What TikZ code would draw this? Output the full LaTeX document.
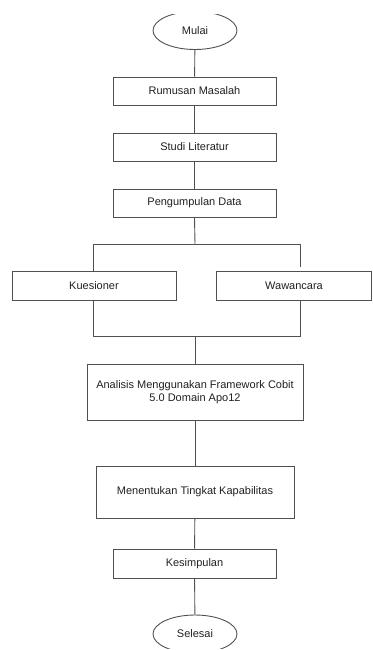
\documentclass[tikz,border=0pt]{standalone}
\usepackage{fontspec}
\setmainfont{Liberation Sans}
\usetikzlibrary{shapes.geometric}
\definecolor{ln}{HTML}{505050}
\definecolor{tx}{HTML}{202020}
\begin{document}
\begin{tikzpicture}[x=1pt,y=-1pt,
  box/.style={draw=ln,line width=0.9pt,rectangle,inner sep=0pt,minimum width=163pt,minimum height=28pt,text=tx,font=\fontsize{11pt}{13pt}\selectfont,align=center},
  term/.style={draw=ln,line width=0.9pt,ellipse,inner sep=0pt,minimum width=84pt,minimum height=38pt,text=tx,font=\fontsize{11pt}{13pt}\selectfont},
  conn/.style={draw=ln,line width=0.9pt}]
\useasboundingbox (0,0) rectangle (372,650);
\node[term] (mulai) at (195,30.5) {Mulai};
\node[box] (rumusan) at (194.5,91) {Rumusan Masalah};
\node[box] (studi) at (194.5,147) {Studi Literatur};
\node[box] (data) at (194.5,203) {Pengumpulan Data};
\node[box,minimum width=164pt,minimum height=29pt] (kues) at (94,285.5) {Kuesioner};
\node[box,minimum width=155pt,minimum height=29pt] (waw) at (294,285.5) {Wawancara};
\node[box,minimum width=216pt,minimum height=56pt] (anal) at (195,392) {Analisis Menggunakan Framework Cobit\\5.0 Domain Apo12};
\node[box,minimum width=198pt,minimum height=52pt] (tingkat) at (195,492) {Menentukan Tingkat Kapabilitas};
\node[box,minimum height=29pt] (simpul) at (194.5,563.5) {Kesimpulan};
\node[term] (selesai) at (195,634) {Selesai};
\coordinate (j1) at (195,244);
\coordinate (jl) at (93,244);
\coordinate (jr) at (300,244);
\coordinate (jre) at (300,267);
\coordinate (b1) at (195,336);
\coordinate (bl) at (93,336);
\coordinate (br) at (300,336);
\draw[conn] (mulai) -- (rumusan);
\draw[conn] (rumusan) -- (studi);
\draw[conn] (studi) -- (data);
\draw[conn] (data.south) -- (j1);
\draw[conn] (jl |- kues.north) -- (jl) -- (jr) -- (jre);
\draw[conn] (jl |- kues.south) -- (bl) -- (br) -- (br |- waw.south);
\draw[conn] (b1) -- (anal.north);
\draw[conn] (anal) -- (tingkat);
\draw[conn] (tingkat) -- (simpul);
\draw[conn] (simpul) -- (selesai);
\fill[white] (0,0) rectangle (372,14);
\fill[white] (0,649) rectangle (372,650);
\end{tikzpicture}
\end{document}
